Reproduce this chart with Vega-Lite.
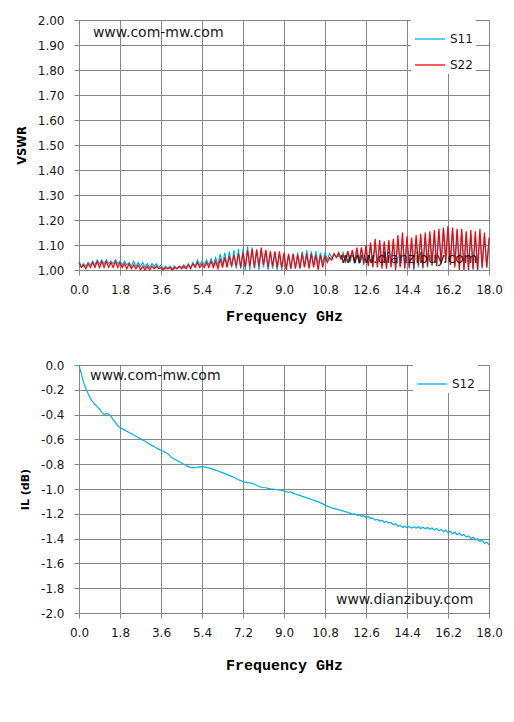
{
  "$schema": "https://vega.github.io/schema/vega-lite/v6.json",
  "background": "white",
  "padding": {"left": 15, "top": 13, "right": 5, "bottom": 5},
  "spacing": 34,
  "resolve": {"scale": {"color": "independent"}, "legend": {"color": "independent"}},
  "config": {
    "view": {"stroke": "#868686", "strokeWidth": 1},
    "axis": {
      "grid": true,
      "gridColor": "#868686",
      "gridOpacity": 1,
      "domainColor": "#868686",
      "tickColor": "#868686",
      "tickSize": 5,
      "tickCount": 11,
      "labelFont": "DejaVu Sans",
      "labelFontSize": 12,
      "labelColor": "#1a1a1a",
      "labelOverlap": false,
      "labelFlush": false,
      "titleColor": "#000000"
    },
    "axisX": {"labelPadding": 9, "titlePadding": 13, "titleFont": "Liberation Mono", "titleFontSize": 15, "titleFontWeight": "bold"},
    "axisY": {"labelPadding": 10, "titlePadding": 10, "titleFont": "DejaVu Sans", "titleFontSize": 11.5, "titleFontWeight": "bold"},
    "legend": {
      "orient": "none",
      "fillColor": "white",
      "padding": 3,
      "symbolType": "stroke",
      "symbolSize": 900,
      "symbolStrokeWidth": 1.3,
      "labelFont": "DejaVu Sans",
      "labelFontSize": 12,
      "labelColor": "#1a1a1a",
      "labelOffset": 4,
      "rowPadding": 4
    }
  },
  "datasets": {
    "vswr": [
      {"f":0.0,"S11":1.035,"S22":1.03},{"f":0.1,"S11":1.015,"S22":1.01},{"f":0.2,"S11":1.025,"S22":1.02},{"f":0.3,"S11":1.015,"S22":1.005},
      {"f":0.4,"S11":1.03,"S22":1.025},{"f":0.5,"S11":1.02,"S22":1.01},{"f":0.6,"S11":1.035,"S22":1.03},{"f":0.7,"S11":1.02,"S22":1.01},
      {"f":0.8,"S11":1.04,"S22":1.035},{"f":0.9,"S11":1.025,"S22":1.01},{"f":1.0,"S11":1.04,"S22":1.035},{"f":1.1,"S11":1.025,"S22":1.01},
      {"f":1.2,"S11":1.04,"S22":1.035},{"f":1.3,"S11":1.025,"S22":1.01},{"f":1.4,"S11":1.035,"S22":1.03},{"f":1.5,"S11":1.025,"S22":1.01},
      {"f":1.6,"S11":1.04,"S22":1.035},{"f":1.7,"S11":1.025,"S22":1.01},{"f":1.8,"S11":1.035,"S22":1.03},{"f":1.9,"S11":1.02,"S22":1.01},
      {"f":2.0,"S11":1.035,"S22":1.025},{"f":2.1,"S11":1.02,"S22":1.005},{"f":2.2,"S11":1.03,"S22":1.025},{"f":2.3,"S11":1.015,"S22":1.005},
      {"f":2.4,"S11":1.035,"S22":1.02},{"f":2.5,"S11":1.015,"S22":1.005},{"f":2.6,"S11":1.03,"S22":1.02},{"f":2.7,"S11":1.015,"S22":1.0},
      {"f":2.8,"S11":1.03,"S22":1.015},{"f":2.9,"S11":1.01,"S22":1.0},{"f":3.0,"S11":1.025,"S22":1.015},{"f":3.1,"S11":1.01,"S22":1.0},
      {"f":3.2,"S11":1.025,"S22":1.015},{"f":3.3,"S11":1.015,"S22":1.005},{"f":3.4,"S11":1.025,"S22":1.015},{"f":3.5,"S11":1.01,"S22":1.005},
      {"f":3.6,"S11":1.02,"S22":1.01},{"f":3.7,"S11":1.005,"S22":1.0},{"f":3.8,"S11":1.015,"S22":1.01},{"f":3.9,"S11":1.005,"S22":1.005},
      {"f":4.0,"S11":1.015,"S22":1.01},{"f":4.1,"S11":1.005,"S22":1.0},{"f":4.2,"S11":1.015,"S22":1.01},{"f":4.3,"S11":1.005,"S22":1.005},
      {"f":4.4,"S11":1.015,"S22":1.015},{"f":4.5,"S11":1.01,"S22":1.005},{"f":4.6,"S11":1.02,"S22":1.015},{"f":4.7,"S11":1.01,"S22":1.005},
      {"f":4.8,"S11":1.025,"S22":1.02},{"f":4.9,"S11":1.01,"S22":1.005},{"f":5.0,"S11":1.03,"S22":1.025},{"f":5.1,"S11":1.015,"S22":1.01},
      {"f":5.2,"S11":1.04,"S22":1.03},{"f":5.3,"S11":1.02,"S22":1.01},{"f":5.4,"S11":1.035,"S22":1.025},{"f":5.5,"S11":1.02,"S22":1.01},
      {"f":5.6,"S11":1.04,"S22":1.03},{"f":5.7,"S11":1.02,"S22":1.01},{"f":5.8,"S11":1.045,"S22":1.035},{"f":5.9,"S11":1.02,"S22":1.01},
      {"f":6.0,"S11":1.05,"S22":1.035},{"f":6.1,"S11":1.02,"S22":1.005},{"f":6.2,"S11":1.065,"S22":1.045},{"f":6.3,"S11":1.02,"S22":1.01},
      {"f":6.4,"S11":1.07,"S22":1.05},{"f":6.5,"S11":1.015,"S22":1.01},{"f":6.6,"S11":1.075,"S22":1.055},{"f":6.7,"S11":1.01,"S22":1.015},
      {"f":6.8,"S11":1.08,"S22":1.06},{"f":6.9,"S11":1.005,"S22":1.015},{"f":7.0,"S11":1.085,"S22":1.065},{"f":7.1,"S11":1.005,"S22":1.01},
      {"f":7.2,"S11":1.085,"S22":1.07},{"f":7.3,"S11":1.0,"S22":1.01},{"f":7.4,"S11":1.095,"S22":1.08},{"f":7.5,"S11":1.0,"S22":1.015},
      {"f":7.6,"S11":1.09,"S22":1.085},{"f":7.7,"S11":1.005,"S22":1.01},{"f":7.8,"S11":1.085,"S22":1.08},{"f":7.9,"S11":1.0,"S22":1.015},
      {"f":8.0,"S11":1.08,"S22":1.09},{"f":8.1,"S11":1.01,"S22":1.02},{"f":8.2,"S11":1.075,"S22":1.08},{"f":8.3,"S11":1.0,"S22":1.01},
      {"f":8.4,"S11":1.07,"S22":1.075},{"f":8.5,"S11":1.005,"S22":1.015},{"f":8.6,"S11":1.07,"S22":1.075},{"f":8.7,"S11":1.0,"S22":1.01},
      {"f":8.8,"S11":1.065,"S22":1.075},{"f":8.9,"S11":1.0,"S22":1.01},{"f":9.0,"S11":1.06,"S22":1.07},{"f":9.1,"S11":1.005,"S22":1.0},
      {"f":9.2,"S11":1.06,"S22":1.065},{"f":9.3,"S11":1.005,"S22":1.005},{"f":9.4,"S11":1.065,"S22":1.065},{"f":9.5,"S11":1.01,"S22":1.005},
      {"f":9.6,"S11":1.07,"S22":1.06},{"f":9.7,"S11":1.01,"S22":1.005},{"f":9.8,"S11":1.075,"S22":1.065},{"f":9.9,"S11":1.015,"S22":1.01},
      {"f":10.0,"S11":1.08,"S22":1.065},{"f":10.1,"S11":1.015,"S22":1.005},{"f":10.2,"S11":1.075,"S22":1.065},{"f":10.3,"S11":1.02,"S22":1.01},
      {"f":10.4,"S11":1.075,"S22":1.06},{"f":10.5,"S11":1.02,"S22":1.0},{"f":10.6,"S11":1.07,"S22":1.06},{"f":10.7,"S11":1.025,"S22":1.01},
      {"f":10.8,"S11":1.07,"S22":1.055},{"f":10.9,"S11":1.04,"S22":1.03},{"f":11.0,"S11":1.065,"S22":1.05},{"f":11.1,"S11":1.05,"S22":1.04},
      {"f":11.2,"S11":1.065,"S22":1.065},{"f":11.3,"S11":1.05,"S22":1.05},{"f":11.4,"S11":1.06,"S22":1.07},{"f":11.5,"S11":1.045,"S22":1.045},
      {"f":11.6,"S11":1.07,"S22":1.06},{"f":11.7,"S11":1.03,"S22":1.035},{"f":11.8,"S11":1.075,"S22":1.075},{"f":11.9,"S11":1.03,"S22":1.035},
      {"f":12.0,"S11":1.08,"S22":1.08},{"f":12.1,"S11":1.025,"S22":1.03},{"f":12.2,"S11":1.085,"S22":1.09},{"f":12.3,"S11":1.025,"S22":1.03},
      {"f":12.4,"S11":1.09,"S22":1.09},{"f":12.5,"S11":1.02,"S22":1.025},{"f":12.6,"S11":1.095,"S22":1.1},{"f":12.7,"S11":1.02,"S22":1.015},
      {"f":12.8,"S11":1.105,"S22":1.11},{"f":12.9,"S11":1.015,"S22":1.01},{"f":13.0,"S11":1.11,"S22":1.125},{"f":13.1,"S11":1.02,"S22":1.01},
      {"f":13.2,"S11":1.11,"S22":1.12},{"f":13.3,"S11":1.015,"S22":1.005},{"f":13.4,"S11":1.105,"S22":1.115},{"f":13.5,"S11":1.01,"S22":1.005},
      {"f":13.6,"S11":1.11,"S22":1.12},{"f":13.7,"S11":1.02,"S22":1.01},{"f":13.8,"S11":1.115,"S22":1.125},{"f":13.9,"S11":1.01,"S22":1.0},
      {"f":14.0,"S11":1.12,"S22":1.14},{"f":14.1,"S11":1.015,"S22":1.01},{"f":14.2,"S11":1.125,"S22":1.15},{"f":14.3,"S11":1.01,"S22":1.005},
      {"f":14.4,"S11":1.12,"S22":1.135},{"f":14.5,"S11":1.005,"S22":1.01},{"f":14.6,"S11":1.12,"S22":1.13},{"f":14.7,"S11":1.0,"S22":1.005},
      {"f":14.8,"S11":1.125,"S22":1.14},{"f":14.9,"S11":1.01,"S22":1.02},{"f":15.0,"S11":1.13,"S22":1.145},{"f":15.1,"S11":1.005,"S22":1.01},
      {"f":15.2,"S11":1.135,"S22":1.15},{"f":15.3,"S11":1.01,"S22":1.015},{"f":15.4,"S11":1.14,"S22":1.155},{"f":15.5,"S11":1.015,"S22":1.02},
      {"f":15.6,"S11":1.145,"S22":1.16},{"f":15.7,"S11":1.02,"S22":1.015},{"f":15.8,"S11":1.155,"S22":1.165},{"f":15.9,"S11":1.03,"S22":1.025},
      {"f":16.0,"S11":1.165,"S22":1.17},{"f":16.1,"S11":1.04,"S22":1.03},{"f":16.2,"S11":1.175,"S22":1.175},{"f":16.3,"S11":1.03,"S22":1.02},
      {"f":16.4,"S11":1.165,"S22":1.17},{"f":16.5,"S11":1.02,"S22":1.01},{"f":16.6,"S11":1.16,"S22":1.165},{"f":16.7,"S11":1.01,"S22":1.0},
      {"f":16.8,"S11":1.155,"S22":1.165},{"f":16.9,"S11":1.005,"S22":1.0},{"f":17.0,"S11":1.15,"S22":1.155},{"f":17.1,"S11":1.0,"S22":1.0},
      {"f":17.2,"S11":1.145,"S22":1.16},{"f":17.3,"S11":1.0,"S22":1.005},{"f":17.4,"S11":1.14,"S22":1.155},{"f":17.5,"S11":1.0,"S22":1.0},
      {"f":17.6,"S11":1.14,"S22":1.165},{"f":17.7,"S11":1.005,"S22":1.01},{"f":17.8,"S11":1.135,"S22":1.15},{"f":17.9,"S11":1.01,"S22":1.01},
      {"f":18.0,"S11":1.1,"S22":1.13}
    ],
    "il": [
      {"f":0.0,"v":0.0},{"f":0.05,"v":-0.04},{"f":0.1,"v":-0.07},{"f":0.2,"v":-0.14},{"f":0.3,"v":-0.19},{"f":0.4,"v":-0.23},
      {"f":0.5,"v":-0.27},{"f":0.6,"v":-0.295},{"f":0.7,"v":-0.315},{"f":0.8,"v":-0.335},{"f":0.9,"v":-0.355},{"f":1.0,"v":-0.38},
      {"f":1.1,"v":-0.4},{"f":1.2,"v":-0.39},{"f":1.3,"v":-0.395},{"f":1.4,"v":-0.415},{"f":1.5,"v":-0.44},{"f":1.6,"v":-0.465},
      {"f":1.7,"v":-0.49},{"f":1.8,"v":-0.505},{"f":1.9,"v":-0.515},{"f":2.0,"v":-0.525},{"f":2.1,"v":-0.535},{"f":2.2,"v":-0.545},
      {"f":2.3,"v":-0.555},{"f":2.4,"v":-0.565},{"f":2.5,"v":-0.575},{"f":2.6,"v":-0.585},{"f":2.7,"v":-0.595},{"f":2.8,"v":-0.605},
      {"f":2.9,"v":-0.615},{"f":3.0,"v":-0.625},{"f":3.1,"v":-0.64},{"f":3.2,"v":-0.65},{"f":3.3,"v":-0.66},{"f":3.4,"v":-0.67},
      {"f":3.5,"v":-0.68},{"f":3.6,"v":-0.685},{"f":3.7,"v":-0.695},{"f":3.8,"v":-0.705},{"f":3.9,"v":-0.715},{"f":4.0,"v":-0.735},
      {"f":4.1,"v":-0.75},{"f":4.2,"v":-0.76},{"f":4.3,"v":-0.77},{"f":4.4,"v":-0.78},{"f":4.5,"v":-0.79},{"f":4.6,"v":-0.8},
      {"f":4.7,"v":-0.81},{"f":4.8,"v":-0.82},{"f":4.9,"v":-0.825},{"f":5.0,"v":-0.828},{"f":5.1,"v":-0.828},{"f":5.2,"v":-0.825},
      {"f":5.3,"v":-0.822},{"f":5.4,"v":-0.82},{"f":5.5,"v":-0.822},{"f":5.6,"v":-0.826},{"f":5.7,"v":-0.83},{"f":5.8,"v":-0.836},
      {"f":5.9,"v":-0.842},{"f":6.0,"v":-0.848},{"f":6.1,"v":-0.855},{"f":6.2,"v":-0.862},{"f":6.3,"v":-0.868},{"f":6.4,"v":-0.876},
      {"f":6.5,"v":-0.882},{"f":6.6,"v":-0.89},{"f":6.7,"v":-0.898},{"f":6.8,"v":-0.905},{"f":6.9,"v":-0.915},{"f":7.0,"v":-0.925},
      {"f":7.1,"v":-0.932},{"f":7.2,"v":-0.94},{"f":7.3,"v":-0.945},{"f":7.4,"v":-0.948},{"f":7.5,"v":-0.95},{"f":7.6,"v":-0.955},
      {"f":7.7,"v":-0.962},{"f":7.8,"v":-0.972},{"f":7.9,"v":-0.98},{"f":8.0,"v":-0.985},{"f":8.1,"v":-0.988},{"f":8.2,"v":-0.99},
      {"f":8.3,"v":-0.995},{"f":8.4,"v":-0.998},{"f":8.5,"v":-1.0},{"f":8.6,"v":-1.003},{"f":8.7,"v":-1.006},{"f":8.8,"v":-1.008},
      {"f":8.9,"v":-1.01},{"f":9.0,"v":-1.015},{"f":9.1,"v":-1.02},{"f":9.2,"v":-1.028},{"f":9.3,"v":-1.022},{"f":9.4,"v":-1.035},
      {"f":9.5,"v":-1.04},{"f":9.6,"v":-1.048},{"f":9.7,"v":-1.052},{"f":9.8,"v":-1.06},{"f":9.9,"v":-1.065},{"f":10.0,"v":-1.072},
      {"f":10.1,"v":-1.078},{"f":10.2,"v":-1.085},{"f":10.3,"v":-1.09},{"f":10.4,"v":-1.098},{"f":10.5,"v":-1.102},{"f":10.6,"v":-1.112},
      {"f":10.7,"v":-1.12},{"f":10.8,"v":-1.128},{"f":10.9,"v":-1.138},{"f":11.0,"v":-1.145},{"f":11.1,"v":-1.152},{"f":11.2,"v":-1.158},
      {"f":11.3,"v":-1.162},{"f":11.4,"v":-1.168},{"f":11.5,"v":-1.172},{"f":11.6,"v":-1.178},{"f":11.7,"v":-1.182},{"f":11.8,"v":-1.19},
      {"f":11.9,"v":-1.195},{"f":12.0,"v":-1.202},{"f":12.1,"v":-1.2},{"f":12.2,"v":-1.21},{"f":12.3,"v":-1.208},{"f":12.4,"v":-1.22},
      {"f":12.5,"v":-1.215},{"f":12.6,"v":-1.228},{"f":12.7,"v":-1.222},{"f":12.8,"v":-1.238},{"f":12.9,"v":-1.235},{"f":13.0,"v":-1.25},
      {"f":13.1,"v":-1.245},{"f":13.2,"v":-1.258},{"f":13.3,"v":-1.252},{"f":13.4,"v":-1.268},{"f":13.5,"v":-1.262},{"f":13.6,"v":-1.275},
      {"f":13.7,"v":-1.27},{"f":13.8,"v":-1.288},{"f":13.9,"v":-1.28},{"f":14.0,"v":-1.3},{"f":14.1,"v":-1.292},{"f":14.2,"v":-1.31},
      {"f":14.3,"v":-1.3},{"f":14.4,"v":-1.312},{"f":14.5,"v":-1.302},{"f":14.6,"v":-1.315},{"f":14.7,"v":-1.305},{"f":14.8,"v":-1.315},
      {"f":14.9,"v":-1.305},{"f":15.0,"v":-1.318},{"f":15.1,"v":-1.308},{"f":15.2,"v":-1.32},{"f":15.3,"v":-1.31},{"f":15.4,"v":-1.325},
      {"f":15.5,"v":-1.315},{"f":15.6,"v":-1.33},{"f":15.7,"v":-1.318},{"f":15.8,"v":-1.336},{"f":15.9,"v":-1.324},{"f":16.0,"v":-1.345},
      {"f":16.1,"v":-1.332},{"f":16.2,"v":-1.352},{"f":16.3,"v":-1.34},{"f":16.4,"v":-1.36},{"f":16.5,"v":-1.348},{"f":16.6,"v":-1.368},
      {"f":16.7,"v":-1.356},{"f":16.8,"v":-1.376},{"f":16.9,"v":-1.366},{"f":17.0,"v":-1.386},{"f":17.1,"v":-1.378},{"f":17.2,"v":-1.4},
      {"f":17.3,"v":-1.39},{"f":17.4,"v":-1.412},{"f":17.5,"v":-1.402},{"f":17.6,"v":-1.424},{"f":17.7,"v":-1.414},{"f":17.8,"v":-1.438},
      {"f":17.9,"v":-1.43},{"f":18.0,"v":-1.45}
    ]
  },
  "vconcat": [
    {
      "width": 410,
      "height": 250,
      "layer": [
        {
          "data": {"name": "vswr"},
          "transform": [{"fold": ["S11", "S22"], "as": ["series", "vswr"]}],
          "mark": {"type": "line", "strokeWidth": 1.2},
          "encoding": {
            "x": {
              "field": "f",
              "type": "quantitative",
              "scale": {"domain": [0, 18], "nice": false},
              "axis": {"values": [0, 1.8, 3.6, 5.4, 7.2, 9, 10.8, 12.6, 14.4, 16.2, 18], "format": ".1f", "title": "Frequency GHz"}
            },
            "y": {
              "field": "vswr",
              "type": "quantitative",
              "scale": {"domain": [1, 2], "nice": false, "zero": false},
              "axis": {"values": [1, 1.1, 1.2, 1.3, 1.4, 1.5, 1.6, 1.7, 1.8, 1.9, 2], "format": ".2f", "title": "VSWR"}
            },
            "color": {
              "field": "series",
              "type": "nominal",
              "scale": {"domain": ["S11", "S22"], "range": ["#00B0F0", "#FF0000"]},
              "legend": {"title": null, "legendX": 332, "legendY": 0}
            }
          }
        },
        {
          "data": {"values": [{}]},
          "mark": {"type": "text", "align": "left", "baseline": "middle", "font": "DejaVu Sans", "fontSize": 14, "color": "#1a1a1a"},
          "encoding": {
            "x": {"datum": 0.61, "type": "quantitative"},
            "y": {"datum": 1.948, "type": "quantitative"},
            "text": {"value": "www.com-mw.com"}
          }
        },
        {
          "data": {"values": [{}]},
          "mark": {"type": "text", "align": "left", "baseline": "middle", "font": "DejaVu Sans", "fontSize": 14, "color": "#1a1a1a"},
          "encoding": {
            "x": {"datum": 11.46, "type": "quantitative"},
            "y": {"datum": 1.044, "type": "quantitative"},
            "text": {"value": "www.dianzibuy.com"}
          }
        }
      ]
    },
    {
      "width": 410,
      "height": 248,
      "layer": [
        {
          "data": {"name": "il"},
          "mark": {"type": "line", "strokeWidth": 1.2},
          "encoding": {
            "x": {
              "field": "f",
              "type": "quantitative",
              "scale": {"domain": [0, 18], "nice": false},
              "axis": {"values": [0, 1.8, 3.6, 5.4, 7.2, 9, 10.8, 12.6, 14.4, 16.2, 18], "format": ".1f", "title": "Frequency GHz", "titlePadding": 19}
            },
            "y": {
              "field": "v",
              "type": "quantitative",
              "scale": {"domain": [-2, 0], "nice": false},
              "axis": {
                "values": [-2, -1.8, -1.6, -1.4, -1.2, -1, -0.8, -0.6, -0.4, -0.2, 0],
                "labelExpr": "replace(format(datum.value, '.1f'), '\u2212', '-')",
                "title": "IL (dB)",
                "titleFontSize": 11
              }
            },
            "color": {
              "datum": "S12",
              "type": "nominal",
              "scale": {"domain": ["S12"], "range": ["#00B0F0"]},
              "legend": {"title": null, "legendX": 334, "legendY": 0}
            }
          }
        },
        {
          "data": {"values": [{}]},
          "mark": {"type": "text", "align": "left", "baseline": "middle", "font": "DejaVu Sans", "fontSize": 14, "color": "#1a1a1a"},
          "encoding": {
            "x": {"datum": 0.48, "type": "quantitative"},
            "y": {"datum": -0.089, "type": "quantitative"},
            "text": {"value": "www.com-mw.com"}
          }
        },
        {
          "data": {"values": [{}]},
          "mark": {"type": "text", "align": "left", "baseline": "middle", "font": "DejaVu Sans", "fontSize": 14, "color": "#1a1a1a"},
          "encoding": {
            "x": {"datum": 11.28, "type": "quantitative"},
            "y": {"datum": -1.895, "type": "quantitative"},
            "text": {"value": "www.dianzibuy.com"}
          }
        }
      ]
    }
  ]
}
